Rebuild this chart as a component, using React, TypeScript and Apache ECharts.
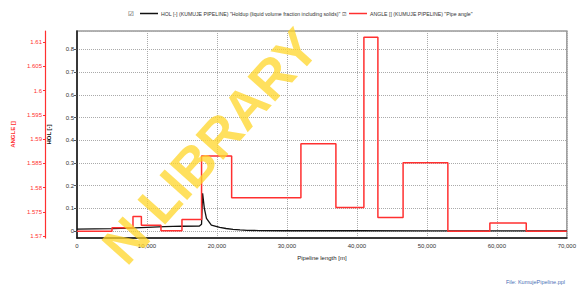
import React, { useEffect, useRef } from "react";
import * as echarts from "echarts";

const holName = 'HOL [-] (KUMUJE PIPELINE) "Holdup (liquid volume fraction including solids)"';
const angleName = 'ANGLE [] (KUMUJE PIPELINE) "Pipe angle"';

// Holdup profile along the pipeline
const holLength = [0, 2500, 5000, 7500, 10000, 12500, 15000, 17500, 17800, 17950, 18200, 18500, 19200, 20400, 21300, 22300, 23300, 24300, 26000, 30000, 40000, 50000, 60000, 70000];
const holValues = [0.008, 0.009, 0.01, 0.013, 0.016, 0.019, 0.021, 0.022, 0.03, 0.166, 0.1, 0.056, 0.026, 0.016, 0.011, 0.0075, 0.005, 0.003, 0.002, 0.001, 0.001, 0.0005, 0.0005, 0.0005];

// Pipe angle: value held from each break until the next
const angleBreaks = [0, 5000, 8000, 9200, 12000, 15000, 17800, 22100, 32000, 37000, 41000, 43000, 46600, 53000, 59000, 64200, 70000];
const angleValues = [1.571, 1.5717, 1.574, 1.5722, 1.5711, 1.5734, 1.5865, 1.5779, 1.589, 1.5759, 1.611, 1.5738, 1.5851, 1.571, 1.5727, 1.571, 1.571];

const xMin = 0;
const xMax = 70000;
const xInterval = 10000;

const holMin = -0.0309;
const holMax = 0.8815;
const angleMin = 1.56959;
const angleMax = 1.61227;

const FONT = "'Liberation Sans Narrow', 'Liberation Sans', Arial, sans-serif";

export default function App() {
  const ref = useRef<HTMLDivElement>(null);

  useEffect(() => {
    if (!ref.current) return;
    const chart = echarts.init(ref.current, undefined, { renderer: "svg" });
    const trim = (v: number) => String(parseFloat(v.toFixed(4)));
    chart.setOption({
      animation: false,
      backgroundColor: "#ffffff",
      textStyle: { fontFamily: FONT },
      grid: {
        left: 77,
        right: 11,
        top: 31,
        bottom: 51,
        show: true,
        borderColor: "#9a9a9a",
        borderWidth: 1.5,
        backgroundColor: "transparent",
      },
      legend: {
        left: 135,
        top: 6,
        itemWidth: 18,
        itemHeight: 1.5,
        itemGap: 3,
        icon: "rect",
        data: [
          { name: holName, itemStyle: { color: "#111111" } },
          { name: angleName, itemStyle: { color: "#ff3030" } },
        ],
        formatter: (name: string) => (name === holName ? name + " \u2611" : name),
        textStyle: { fontSize: 5.2, color: "#333", fontFamily: FONT, padding: [0, 0, 0, -2] },
        selectedMode: false,
      },
      xAxis: {
        type: "value",
        min: xMin,
        max: xMax,
        interval: xInterval,
        name: "Pipeline length [m]",
        nameLocation: "middle",
        nameGap: 17,
        nameTextStyle: { fontSize: 6, color: "#222", fontFamily: FONT },
        axisLine: { show: true, onZero: false, lineStyle: { color: "#111", width: 1.5 } },
        axisTick: { show: false },
        axisLabel: {
          fontSize: 6,
          color: "#333",
          margin: 5,
          fontFamily: FONT,
          formatter: (v: number) => v.toLocaleString("en-US"),
        },
        splitLine: { show: true, lineStyle: { type: "dotted", color: "#aaaaaa", width: 1 } },
      },
      yAxis: [
        {
          type: "value",
          position: "left",
          min: holMin,
          max: holMax,
          splitNumber: 9,
          minInterval: 0.1,
          maxInterval: 0.1,
          name: "HOL [-]",
          nameLocation: "middle",
          nameGap: 25,
          nameTextStyle: { fontSize: 6, color: "#111", fontWeight: "bold", fontFamily: FONT },
          axisLine: { show: true, onZero: false, lineStyle: { color: "#111", width: 1.5 } },
          axisTick: { show: true, length: 3, lineStyle: { color: "#555" } },
          axisLabel: {
            fontSize: 6,
            color: "#333",
            margin: 3,
            showMinLabel: false,
            showMaxLabel: false,
            fontFamily: FONT,
            formatter: (v: number) => trim(v),
          },
          splitLine: { show: true, lineStyle: { type: "dotted", color: "#aaaaaa", width: 1 } },
        },
        {
          type: "value",
          position: "left",
          offset: 32,
          min: angleMin,
          max: angleMax,
          splitNumber: 8,
          minInterval: 0.005,
          maxInterval: 0.005,
          name: "ANGLE []",
          nameLocation: "middle",
          nameGap: 27,
          nameTextStyle: { fontSize: 6, color: "#ff3030", fontWeight: "bold", fontFamily: FONT },
          axisLine: { show: true, onZero: false, lineStyle: { color: "#ff3030", width: 1.2 } },
          axisTick: { show: true, length: 2, lineStyle: { color: "#ff3030" } },
          axisLabel: {
            fontSize: 6,
            color: "#ff3030",
            margin: 3,
            showMinLabel: false,
            showMaxLabel: false,
            fontFamily: FONT,
            formatter: (v: number) => trim(v),
          },
          splitLine: { show: false },
        },
      ],
      series: [
        {
          name: holName,
          type: "line",
          yAxisIndex: 0,
          showSymbol: false,
          symbol: "none",
          lineStyle: { color: "#111111", width: 1.3 },
          itemStyle: { color: "#111111" },
          data: holLength.map((x, i) => [x, holValues[i]]),
          z: 3,
        },
        {
          name: angleName,
          type: "line",
          yAxisIndex: 1,
          step: "end",
          showSymbol: false,
          symbol: "none",
          lineStyle: { color: "#ff3030", width: 1.5 },
          itemStyle: { color: "#ff3030" },
          data: angleBreaks.map((x, i) => [x, angleValues[i]]),
          z: 4,
        },
      ],
      graphic: [
        {
          type: "text",
          left: 128,
          top: 10,
          style: { text: "\u2611", fontSize: 6.5, fill: "#333", fontFamily: "DejaVu Sans" },
        },
        {
          type: "text",
          right: 14,
          top: 279,
          style: { text: "File: KumujePipeline.ppl", fontSize: 5.5, fill: "#4a6fb5", fontFamily: FONT },
        },
        {
          type: "text",
          x: 210,
          y: 146,
          rotation: 0.84,
          z: 100,
          silent: true,
          style: {
            text: "N LIBRARY",
            fontSize: 54,
            fontWeight: "bold",
            fontFamily: "'Liberation Sans', Arial, sans-serif",
            fill: "rgba(255, 214, 40, 0.75)",
            align: "center",
            verticalAlign: "middle",
          },
        },
      ],
    });
    return () => chart.dispose();
  }, []);

  return (
    <div
      ref={ref}
      style={{ position: "fixed", left: 0, top: 0, width: 579, height: 289, background: "#fff" }}
    />
  );
}
